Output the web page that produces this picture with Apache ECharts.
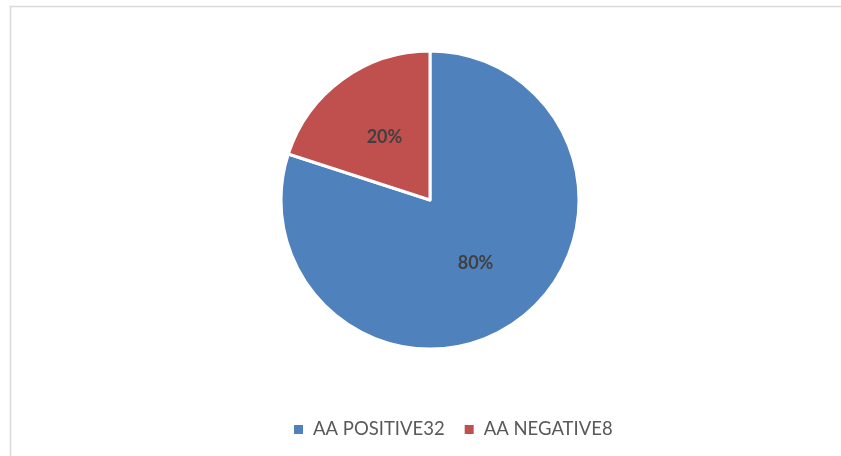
<!DOCTYPE html>
<html><head><meta charset="utf-8">
<script src="https://cdn.jsdelivr.net/npm/echarts@6/dist/echarts.min.js"></script>
<style>html,body{margin:0;padding:0;background:#fff}#c{width:841px;height:456px}</style>
</head><body><div id="c"></div>
<script>
const categories = ["AA POSITIVE32", "AA NEGATIVE8"];
const values = [32, 8];
const colors = ["#4F81BD", "#C0504D"];
const chart = echarts.init(document.getElementById('c'));
chart.setOption({
  animation: false,
  color: colors,
  graphic: [{type:'rect', shape:{x:10.5,y:6.5,width:840,height:460}, style:{fill:'none',stroke:'#d9d9d9',lineWidth:1.5}}],
  legend: {
    top: 420, left: 292, padding: 0, itemWidth: 11, itemHeight: 11, itemGap: 18,
    icon: 'rect',
    textStyle: {fontFamily: 'Lato', fontSize: 18.5, color: '#595959', padding:[0,0,0,4]},
    data: categories
  },
  series: [{
    type: 'pie', center: [430, 200], radius: [0, 149], startAngle: 90, clockwise: true,
    data: categories.map((n,i)=>({name:n, value:values[i]})),
    itemStyle: {borderColor:'#fff', borderWidth:3},
    label: {position:'inside', formatter: p => Math.round(p.percent)+'%', fontFamily:'Lato', fontSize:18, fontWeight:'bold', color:'#404040'},
    labelLine:{show:false}
  }]
});
</script></body></html>
